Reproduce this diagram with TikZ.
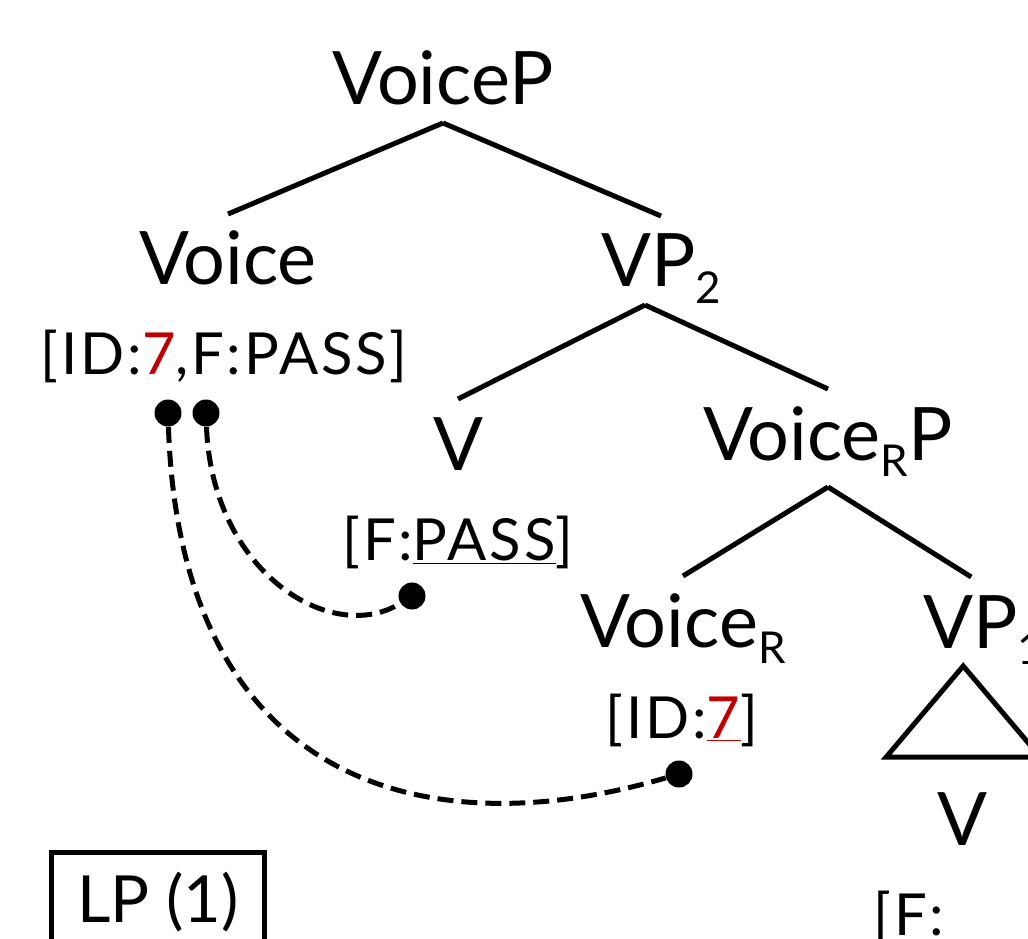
\documentclass[tikz,border=0pt]{standalone}
\usepackage{fontspec}
\setmainfont{Lato}
\definecolor{idred}{RGB}{192,0,0}
\newcommand\lowsub[1]{\raisebox{-0.23em}{\fontsize{25}{28}\selectfont #1}}
\newcommand\catfont{\fontsize{42}{48}\selectfont}
\newcommand\featfont{\fontsize{33}{38}\selectfont\addfontfeature{LetterSpace=5}}
\tikzset{
  cat/.style={font=\catfont, inner sep=0pt, outer ysep=0.36cm, text height=1.06cm, text depth=0pt, anchor=base},
  feat/.style={font=\featfont, inner sep=0pt, anchor=base},
  branch/.style={line width=0.1cm},
  link/.style={line width=0.1cm, dash pattern=on 0.32cm off 0.16cm},
  dot/.style={circle, fill, inner sep=0pt, minimum size=0.54cm},
}
\begin{document}
\begin{tikzpicture}[x=0.02cm, y=-0.02cm]
\useasboundingbox (0,0) rectangle (1028,939);
\clip (0,0) rectangle (1028,939);
% categories
\node[cat] (VoiceP) at (443,105) {VoiceP};
\node[cat] (Voice) at (228,285) {Voice};
\node[cat] (VPtwo) at (661,287) {VP\lowsub{2}};
\node[cat] (V) at (458,470) {V};
\node[cat, text depth=0.18cm] (VoiceRP) at (828,460) {Voice\lowsub{R}P};
\node[cat] (VoiceR) at (683,647) {Voice\lowsub{R}};
\node[cat, anchor=base west] (VPone) at (923,648) {VP\lowsub{1}};
\node[cat] (Vlow) at (962,845) {V};
% features
\node[feat] (fVoice) at (224,375) {[ID:\textcolor{idred}{7},F:PASS]};
\node[feat] (fV) at (458,560) {[F:\underline{PASS}]};
\node[feat] (fVoiceR) at (682,738) {[ID:\textcolor{idred}{\underline{7}}]};
\node[feat, anchor=base west] (fVlow) at (873,935) {[F:};
% branches
\draw[branch] (VoiceP.south) -- (Voice.north);
\draw[branch] (VoiceP.south) -- (VPtwo.north);
\draw[branch] ([xshift=-0.32cm]VPtwo.south) -- (V.north);
\draw[branch] ([xshift=-0.32cm]VPtwo.south) -- (VoiceRP.north);
\draw[branch] (VoiceRP.south) -- (VoiceR.north);
\draw[branch] (VoiceRP.south) -- ([xshift=-0.24cm]VPone.north);
\draw[branch] ([xshift=-0.4cm]VPone.south) -- ++(-77,91) -- ++(154,0) -- cycle;
% links
\node[dot] (d1) at (168,413) {};
\node[dot] (d2) at (206,413) {};
\node[dot] (d3) at (412,596) {};
\node[dot] (d4) at (679,774) {};
\draw[link] (d2) .. controls +(6,160) and +(-80,50) .. (d3);
\draw[link] (d1) .. controls +(12,367) and +(-259,76) .. (d4);
% label box
\node[draw, line width=0.1cm, font=\fontsize{37}{42}\selectfont, inner xsep=0pt, inner ysep=0.46cm,
      minimum width=4.26cm, text height=0.94cm, text depth=1.6cm, anchor=north west]
      (LP) at (49,850) {LP (1)};
\end{tikzpicture}
\end{document}
